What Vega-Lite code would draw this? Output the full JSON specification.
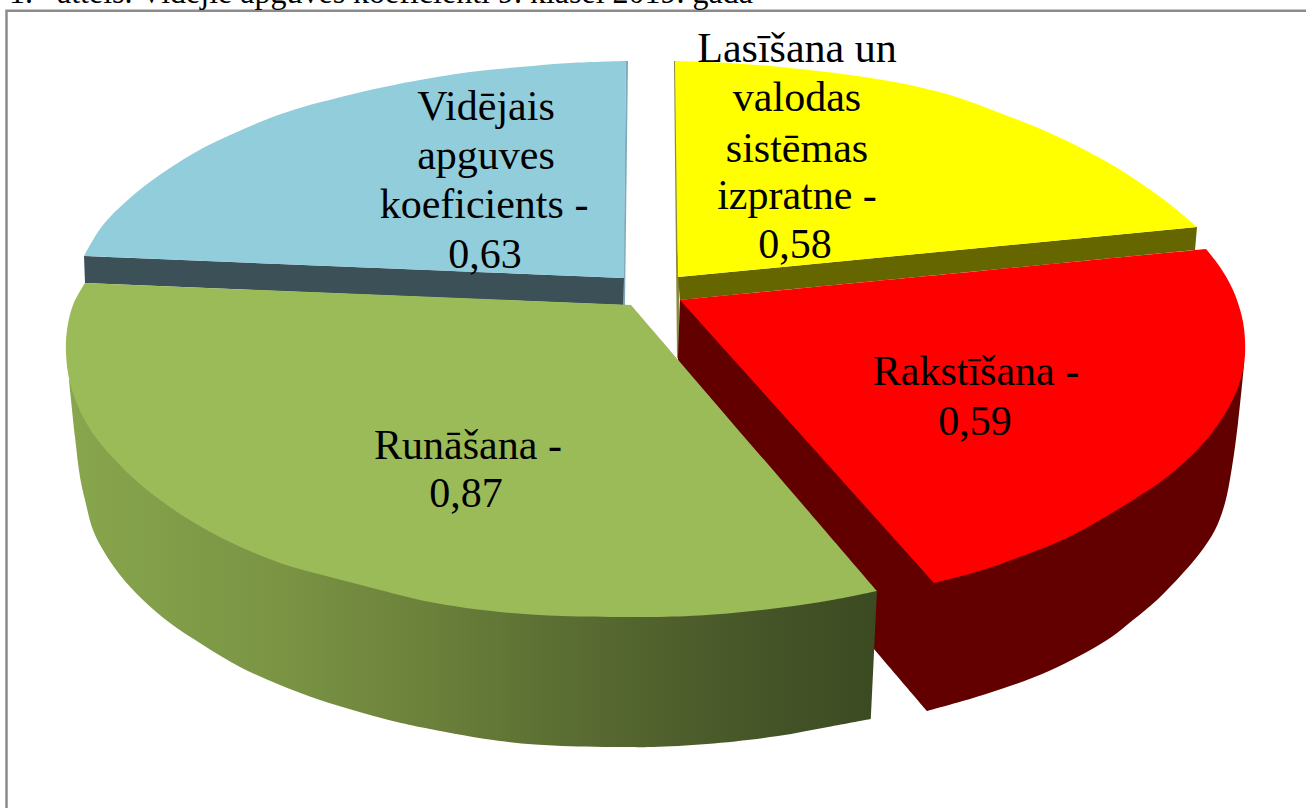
{"$schema":"https://vega.github.io/schema/vega-lite/v6.json","width":1306,"height":808,"padding":0,"autosize":{"type":"none"},"background":"white","config":{"view":{"stroke":null}},
"datasets":{"outlines":[
{"surface":"yellow wall","seq":0,"x":674,"y":61},{"surface":"yellow wall","seq":1,"x":676,"y":61},{"surface":"yellow wall","seq":2,"x":680,"y":358},{"surface":"yellow wall","seq":3,"x":677,"y":358},
{"surface":"yellow front","seq":0,"x":678,"y":277},{"surface":"yellow front","seq":1,"x":1197,"y":227},{"surface":"yellow front","seq":2,"x":1195,"y":250},{"surface":"yellow front","seq":3,"x":680,"y":300},
{"surface":"blue wall","seq":0,"x":626,"y":61},{"surface":"blue wall","seq":1,"x":628,"y":61},{"surface":"blue wall","seq":2,"x":625,"y":305},{"surface":"blue wall","seq":3,"x":623,"y":305},
{"surface":"blue front","seq":0,"x":84,"y":256},{"surface":"blue front","seq":1,"x":624,"y":278},{"surface":"blue front","seq":2,"x":623,"y":305},{"surface":"blue front","seq":3,"x":85,"y":283},
{"surface":"red side","seq":0,"x":680,"y":300},{"surface":"red side","seq":1,"x":678,"y":360},{"surface":"red side","seq":2,"x":678,"y":360},{"surface":"red side","seq":3,"x":874,"y":649},{"surface":"red side","seq":4,"x":874,"y":649},{"surface":"red side","seq":5,"x":927,"y":711},{"surface":"red side","seq":6,"x":927,"y":711},{"surface":"red side","seq":7,"x":986,"y":694},{"surface":"red side","seq":8,"x":1049,"y":671},{"surface":"red side","seq":9,"x":1107,"y":640},{"surface":"red side","seq":10,"x":1133,"y":620},{"surface":"red side","seq":11,"x":1157,"y":600},{"surface":"red side","seq":12,"x":1183,"y":573},{"surface":"red side","seq":13,"x":1200,"y":553},{"surface":"red side","seq":14,"x":1215,"y":530},{"surface":"red side","seq":15,"x":1225,"y":503},{"surface":"red side","seq":16,"x":1232,"y":467},{"surface":"red side","seq":17,"x":1238,"y":423},{"surface":"red side","seq":18,"x":1244,"y":365},
{"surface":"red top","seq":0,"x":680,"y":300},{"surface":"red top","seq":1,"x":1206,"y":249},{"surface":"red top","seq":2,"x":1206,"y":249},{"surface":"red top","seq":3,"x":1220,"y":267},{"surface":"red top","seq":4,"x":1233,"y":290},{"surface":"red top","seq":5,"x":1242,"y":317},{"surface":"red top","seq":6,"x":1245,"y":340},{"surface":"red top","seq":7,"x":1244,"y":365},{"surface":"red top","seq":8,"x":1237,"y":390},{"surface":"red top","seq":9,"x":1223,"y":417},{"surface":"red top","seq":10,"x":1200,"y":447},{"surface":"red top","seq":11,"x":1167,"y":477},{"surface":"red top","seq":12,"x":1133,"y":500},{"surface":"red top","seq":13,"x":1100,"y":520},{"surface":"red top","seq":14,"x":1067,"y":538},{"surface":"red top","seq":15,"x":1017,"y":558},{"surface":"red top","seq":16,"x":983,"y":570},{"surface":"red top","seq":17,"x":950,"y":579},{"surface":"red top","seq":18,"x":934,"y":583},
{"surface":"yellow top","seq":0,"x":678,"y":277},{"surface":"yellow top","seq":1,"x":675,"y":61},{"surface":"yellow top","seq":2,"x":675,"y":61},{"surface":"yellow top","seq":3,"x":730,"y":63},{"surface":"yellow top","seq":4,"x":790,"y":68},{"surface":"yellow top","seq":5,"x":850,"y":75},{"surface":"yellow top","seq":6,"x":900,"y":83},{"surface":"yellow top","seq":7,"x":950,"y":95},{"surface":"yellow top","seq":8,"x":1000,"y":113},{"surface":"yellow top","seq":9,"x":1050,"y":133},{"surface":"yellow top","seq":10,"x":1100,"y":158},{"surface":"yellow top","seq":11,"x":1133,"y":178},{"surface":"yellow top","seq":12,"x":1167,"y":202},{"surface":"yellow top","seq":13,"x":1197,"y":227},
{"surface":"blue top","seq":0,"x":624,"y":278},{"surface":"blue top","seq":1,"x":84,"y":256},{"surface":"blue top","seq":2,"x":84,"y":256},{"surface":"blue top","seq":3,"x":103,"y":225},{"surface":"blue top","seq":4,"x":137,"y":192},{"surface":"blue top","seq":5,"x":170,"y":168},{"surface":"blue top","seq":6,"x":203,"y":148},{"surface":"blue top","seq":7,"x":237,"y":132},{"surface":"blue top","seq":8,"x":270,"y":118},{"surface":"blue top","seq":9,"x":303,"y":107},{"surface":"blue top","seq":10,"x":337,"y":98},{"surface":"blue top","seq":11,"x":370,"y":90},{"surface":"blue top","seq":12,"x":420,"y":80},{"surface":"blue top","seq":13,"x":470,"y":72},{"surface":"blue top","seq":14,"x":520,"y":67},{"surface":"blue top","seq":15,"x":570,"y":63},{"surface":"blue top","seq":16,"x":626,"y":61},
{"surface":"green side","seq":0,"x":69,"y":380},{"surface":"green side","seq":1,"x":75,"y":437},{"surface":"green side","seq":2,"x":80,"y":477},{"surface":"green side","seq":3,"x":85,"y":500},{"surface":"green side","seq":4,"x":93,"y":530},{"surface":"green side","seq":5,"x":103,"y":550},{"surface":"green side","seq":6,"x":120,"y":575},{"surface":"green side","seq":7,"x":143,"y":600},{"surface":"green side","seq":8,"x":170,"y":623},{"surface":"green side","seq":9,"x":203,"y":645},{"surface":"green side","seq":10,"x":240,"y":667},{"surface":"green side","seq":11,"x":280,"y":685},{"surface":"green side","seq":12,"x":320,"y":700},{"surface":"green side","seq":13,"x":363,"y":713},{"surface":"green side","seq":14,"x":397,"y":722},{"surface":"green side","seq":15,"x":430,"y":729},{"surface":"green side","seq":16,"x":500,"y":741},{"surface":"green side","seq":17,"x":562,"y":746},{"surface":"green side","seq":18,"x":625,"y":747},{"surface":"green side","seq":19,"x":653,"y":747},{"surface":"green side","seq":20,"x":707,"y":744},{"surface":"green side","seq":21,"x":778,"y":736},{"surface":"green side","seq":22,"x":828,"y":727},{"surface":"green side","seq":23,"x":871,"y":719},{"surface":"green side","seq":24,"x":871,"y":719},{"surface":"green side","seq":25,"x":877,"y":591},
{"surface":"green top","seq":0,"x":631,"y":305},{"surface":"green top","seq":1,"x":877,"y":591},{"surface":"green top","seq":2,"x":877,"y":591},{"surface":"green top","seq":3,"x":832,"y":600},{"surface":"green top","seq":4,"x":778,"y":608},{"surface":"green top","seq":5,"x":707,"y":615},{"surface":"green top","seq":6,"x":653,"y":617},{"surface":"green top","seq":7,"x":625,"y":617},{"surface":"green top","seq":8,"x":562,"y":616},{"surface":"green top","seq":9,"x":500,"y":612},{"surface":"green top","seq":10,"x":430,"y":602},{"surface":"green top","seq":11,"x":380,"y":590},{"surface":"green top","seq":12,"x":330,"y":577},{"surface":"green top","seq":13,"x":280,"y":563},{"surface":"green top","seq":14,"x":230,"y":542},{"surface":"green top","seq":15,"x":193,"y":522},{"surface":"green top","seq":16,"x":160,"y":500},{"surface":"green top","seq":17,"x":133,"y":478},{"surface":"green top","seq":18,"x":117,"y":462},{"surface":"green top","seq":19,"x":100,"y":443},{"surface":"green top","seq":20,"x":83,"y":417},{"surface":"green top","seq":21,"x":70,"y":383},{"surface":"green top","seq":22,"x":66,"y":353},{"surface":"green top","seq":23,"x":67,"y":330},{"surface":"green top","seq":24,"x":73,"y":305},{"surface":"green top","seq":25,"x":85,"y":283},
{"surface":"frame","seq":0,"x":6.5,"y":808},{"surface":"frame","seq":1,"x":6.5,"y":10.8},{"surface":"frame","seq":2,"x":1306,"y":10.8}
],
"labels":[
{"text":"Lasīšana un","x":797,"y":62},{"text":"valodas","x":797,"y":111},{"text":"sistēmas","x":797,"y":162},{"text":"izpratne -","x":797,"y":209},{"text":"0,58","x":795,"y":258},
{"text":"Vidējais","x":486,"y":120},{"text":"apguves","x":486,"y":169},{"text":"koeficients -","x":484,"y":218},{"text":"0,63","x":485,"y":268},
{"text":"Rakstīšana -","x":976,"y":385},{"text":"0,59","x":975,"y":435},
{"text":"Runāšana -","x":468,"y":459},{"text":"0,87","x":466,"y":507}
],
"caption":[{"text":"1.\u00a0\u00a0\u00a0attēls. Vidējie apguves koeficienti 9. klasei 2019. gadā","x":9,"y":2.5}]},
"layer":[
{"data":{"name":"outlines"},"transform":[{"filter":"indexof(['yellow wall','yellow front','blue wall','blue front'],datum.surface)>=0"}],
"mark":{"type":"line","strokeWidth":0,"interpolate":"linear"},
"encoding":{"x":{"field":"x","type":"quantitative","scale":{"domain":[0,1306],"nice":false,"zero":false},"axis":null},"y":{"field":"y","type":"quantitative","scale":{"domain":[808,0],"nice":false,"zero":false},"axis":null},"order":{"field":"seq"},"detail":{"field":"surface"},"fill":{"field":"surface","type":"nominal","legend":null,"scale":{"domain":["yellow wall","yellow front","blue wall","blue front","red side","red top","yellow top","blue top"],"range":["#8a8a40","#666600","#7fa9b8","#3c5058","#620000","#ff0000","#ffff00","#92cddc"]}}}},
{"data":{"name":"outlines"},"transform":[{"filter":"indexof(['red side','red top','yellow top','blue top'],datum.surface)>=0"}],
"mark":{"type":"line","strokeWidth":0,"interpolate":"catmull-rom"},
"encoding":{"x":{"field":"x","type":"quantitative","scale":{"domain":[0,1306],"nice":false,"zero":false},"axis":null},"y":{"field":"y","type":"quantitative","scale":{"domain":[808,0],"nice":false,"zero":false},"axis":null},"order":{"field":"seq"},"detail":{"field":"surface"},"fill":{"field":"surface","type":"nominal","legend":null,"scale":{"domain":["yellow wall","yellow front","blue wall","blue front","red side","red top","yellow top","blue top"],"range":["#8a8a40","#666600","#7fa9b8","#3c5058","#620000","#ff0000","#ffff00","#92cddc"]}}}},
{"data":{"name":"outlines"},"transform":[{"filter":"datum.surface==='green side'"}],
"mark":{"type":"line","strokeWidth":0,"interpolate":"catmull-rom","fill":{"gradient":"linear","x1":0,"x2":1,"y1":0,"y2":0,"stops":[{"offset":0,"color":"#88a64d"},{"offset":0.26,"color":"#7a9444"},{"offset":0.45,"color":"#6b803a"},{"offset":0.6,"color":"#5c6f33"},{"offset":0.8,"color":"#4a5a2a"},{"offset":1,"color":"#3c4a22"}]}},
"encoding":{"x":{"field":"x","type":"quantitative","scale":{"domain":[0,1306],"nice":false,"zero":false},"axis":null},"y":{"field":"y","type":"quantitative","scale":{"domain":[808,0],"nice":false,"zero":false},"axis":null},"order":{"field":"seq"}}},
{"data":{"name":"outlines"},"transform":[{"filter":"datum.surface==='green top'"}],
"mark":{"type":"line","strokeWidth":0,"interpolate":"catmull-rom","fill":"#9bbb59"},
"encoding":{"x":{"field":"x","type":"quantitative","scale":{"domain":[0,1306],"nice":false,"zero":false},"axis":null},"y":{"field":"y","type":"quantitative","scale":{"domain":[808,0],"nice":false,"zero":false},"axis":null},"order":{"field":"seq"}}},
{"data":{"name":"outlines"},"transform":[{"filter":"datum.surface==='frame'"}],
"mark":{"type":"line","strokeWidth":2.5,"stroke":"#8c8c8c"},
"encoding":{"x":{"field":"x","type":"quantitative","scale":{"domain":[0,1306],"nice":false,"zero":false},"axis":null},"y":{"field":"y","type":"quantitative","scale":{"domain":[808,0],"nice":false,"zero":false},"axis":null},"order":{"field":"seq"}}},
{"data":{"name":"labels"},"mark":{"type":"text","font":"Liberation Serif","fontSize":42,"align":"center","baseline":"alphabetic","color":"#000000"},
"encoding":{"x":{"field":"x","type":"quantitative","scale":{"domain":[0,1306],"nice":false,"zero":false},"axis":null},"y":{"field":"y","type":"quantitative","scale":{"domain":[808,0],"nice":false,"zero":false},"axis":null},"text":{"field":"text"}}},
{"data":{"name":"caption"},"mark":{"type":"text","font":"Liberation Serif","fontSize":32,"align":"left","baseline":"alphabetic","color":"#000000"},
"encoding":{"x":{"field":"x","type":"quantitative","scale":{"domain":[0,1306],"nice":false,"zero":false},"axis":null},"y":{"field":"y","type":"quantitative","scale":{"domain":[808,0],"nice":false,"zero":false},"axis":null},"text":{"field":"text"}}}
]}
